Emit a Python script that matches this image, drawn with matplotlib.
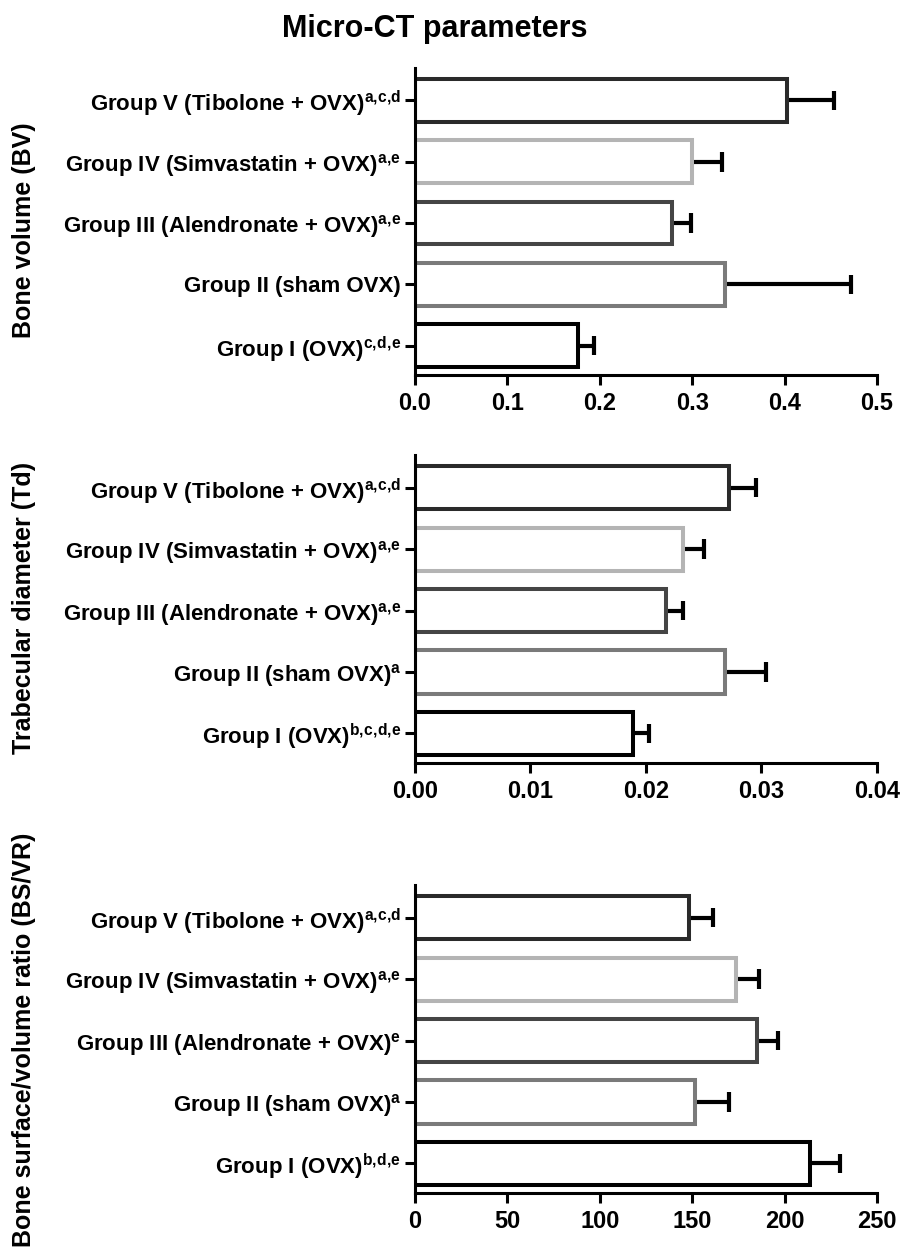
import numpy as np
import matplotlib
matplotlib.use("Agg")
import matplotlib.pyplot as plt

plt.rcParams["font.family"] = ["Liberation Sans", "DejaVu Sans"]
plt.rcParams["font.weight"] = "bold"
plt.rcParams["mathtext.fontset"] = "custom"
plt.rcParams["mathtext.rm"] = "Liberation Sans"
plt.rcParams["mathtext.it"] = "Liberation Sans:italic"
plt.rcParams["mathtext.bf"] = "Liberation Sans:bold"

# groups from bottom (I) to top (V)
group_names = [
    "Group I (OVX)",
    "Group II (sham OVX)",
    "Group III (Alendronate + OVX)",
    "Group IV (Simvastatin + OVX)",
    "Group V (Tibolone + OVX)",
]
edge_colors = ["#000000", "#7a7a7a", "#454545", "#b4b4b4", "#2a2a2a"]

# panel 1: bone volume
bv_marks = ["c,d,e", "", "a,e", "a,e", "a,c,d"]
bv_mean = [0.176, 0.335, 0.278, 0.300, 0.4025]
bv_err = [0.018, 0.137, 0.021, 0.032, 0.051]
bv_ticks = [0.0, 0.1, 0.2, 0.3, 0.4, 0.5]
bv_ticklabels = ["0.0", "0.1", "0.2", "0.3", "0.4", "0.5"]

# panel 2: trabecular diameter
td_marks = ["b,c,d,e", "a", "a,e", "a,e", "a,c,d"]
td_mean = [0.0189, 0.0268, 0.0217, 0.0232, 0.0272]
td_err = [0.0014, 0.0036, 0.0015, 0.0018, 0.0023]
td_ticks = [0.00, 0.01, 0.02, 0.03, 0.04]
td_ticklabels = ["0.00", "0.01", "0.02", "0.03", "0.04"]

# panel 3: bone surface/volume ratio
bs_marks = ["b,d,e", "a", "e", "a,e", "a,c,d"]
bs_mean = [213.8, 151.6, 185.2, 173.9, 148.4]
bs_err = [16.0, 18.2, 11.3, 12.0, 13.0]
bs_ticks = [0, 50, 100, 150, 200, 250]
bs_ticklabels = ["0", "50", "100", "150", "200", "250"]

panels = [
    ("Bone volume (BV)", bv_marks, bv_mean, bv_err, bv_ticks, bv_ticklabels),
    ("Trabecular diameter (Td)", td_marks, td_mean, td_err, td_ticks, td_ticklabels),
    ("Bone surface/volume ratio (BS/VR)", bs_marks, bs_mean, bs_err, bs_ticks, bs_ticklabels),
]

axes_rects = [
    [0.456, 0.700, 0.5077, 0.2456],
    [0.456, 0.3896, 0.5077, 0.2464],
    [0.456, 0.0456, 0.5077, 0.2464],
]
ylabel_y = [0.816, 0.5136, 0.168]


def tick_label(name, mark):
    if mark:
        sup = mark.replace(",", r",\!")
        return name + r"$^{\mathrm{" + sup + "}}$"
    return name


fig = plt.figure(figsize=(9.1, 12.5), dpi=100)

for rect, ly, (ylab, marks, means, errs, ticks, ticklabels) in zip(axes_rects, ylabel_y, panels):
    ax = fig.add_axes(rect)
    y = np.arange(len(group_names))
    means = np.array(means)
    errs = np.array(errs)

    ax.barh(y, means, height=0.7, color="white", edgecolor=edge_colors,
            linewidth=2.9, zorder=2)
    ax.hlines(y, means, means + errs, color="black", linewidth=3.0, zorder=1)
    ax.vlines(means + errs, y - 0.16, y + 0.16, color="black", linewidth=3.0, zorder=1)

    ax.set_xlim(ticks[0], ticks[-1])
    ax.set_ylim(-0.48, 4.53)
    ax.set_xticks(ticks, ticklabels)
    ax.set_yticks(y, [tick_label(n, m) for n, m in zip(group_names, marks)])

    for side in ["top", "right"]:
        ax.spines[side].set_visible(False)
    for side in ["left", "bottom"]:
        ax.spines[side].set_linewidth(2.2)
        ax.spines[side].set_zorder(3)

    ax.tick_params(axis="both", width=2.2, length=7)
    ax.tick_params(axis="x", pad=5, labelsize=17)
    ax.tick_params(axis="y", pad=3, labelsize=16)
    for lab in ax.get_xticklabels() + ax.get_yticklabels():
        lab.set_fontweight("bold")

    fig.text(0.026, ly, ylab, rotation=90, ha="center", va="center",
             fontsize=18, fontweight="bold")

fig.text(0.478, 0.977, "Micro-CT parameters", ha="center", va="center",
         fontsize=22, fontweight="bold")

fig.savefig("out.png", dpi=100)
